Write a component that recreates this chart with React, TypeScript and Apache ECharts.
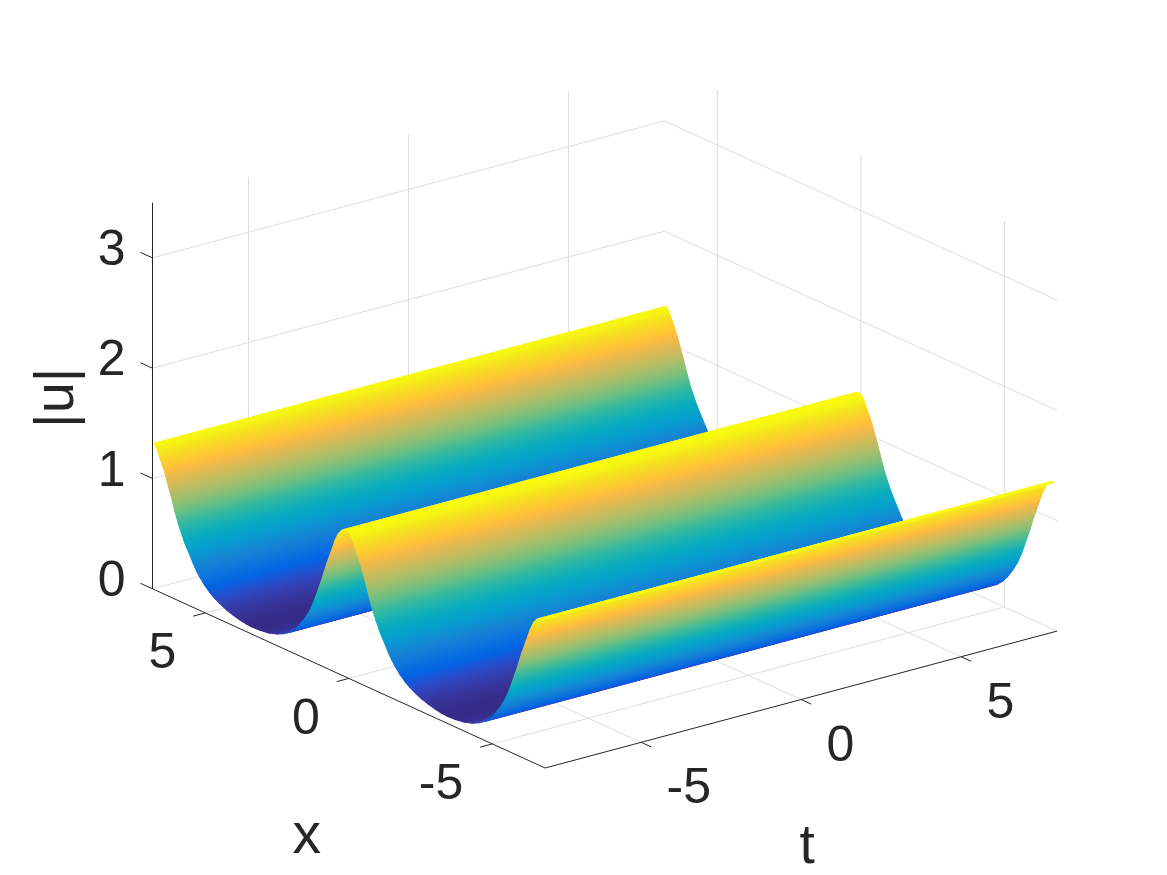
import React, { useEffect, useRef } from "react";
import * as echarts from "echarts";

// ---- data ----
const tLimits = [-8, 8];
const xLimits = [-6.84, 6.84];
const zLimits = [0, 3.5];
const tTicks = [-5, 0, 5];
const xTicks = [-5, 0, 5];
const zTicks = [0, 1, 2, 3];
const tTickLabels = ["-5", "0", "5"];
const xTickLabels = ["-5", "0", "5"];
const zTickLabels = ["0", "1", "2", "3"];

// the surface does not change along t: one profile |u|(x), from the back (x high) to the front
const profileX = [
  6.79, 6.69, 6.58, 6.49, 6.4, 6.32, 6.23, 6.14, 6.06, 5.94, 5.82, 5.71, 5.59, 5.42, 5.3, 5.18, 5.02, 4.84, 4.67, 4.49,
  4.26, 4.02, 3.79, 3.56, 3.39, 3.09, 2.79, 2.51, 2.28, 2.05, 1.87, 1.7, 1.52, 1.35, 1.2, 1.06, 0.91, 0.77, 0.62, 0.48,
  0.36, 0.25, 0.16, 0.07, -0.01, -0.11, -0.22, -0.31, -0.4, -0.48, -0.57, -0.66, -0.74, -0.86, -0.98, -1.09, -1.21,
  -1.38, -1.5, -1.62, -1.78, -1.96, -2.13, -2.31, -2.54, -2.78, -3.01, -3.24, -3.41, -3.71, -4.01, -4.29, -4.52, -4.75,
  -4.93, -5.1, -5.28, -5.45, -5.6, -5.74, -5.89, -6.03, -6.18, -6.32, -6.44, -6.55, -6.64, -6.73,
];
const profileU = [
  1.325, 1.29, 1.22, 1.16, 1.1, 1.03, 0.955, 0.875, 0.8, 0.7, 0.62, 0.55, 0.49, 0.4, 0.345, 0.3, 0.25, 0.205, 0.172,
  0.145, 0.117, 0.095, 0.08, 0.07, 0.066, 0.07, 0.082, 0.105, 0.135, 0.177, 0.225, 0.285, 0.365, 0.455, 0.56, 0.68,
  0.81, 0.945, 1.07, 1.19, 1.27, 1.31, 1.33, 1.335, 1.33, 1.29, 1.22, 1.16, 1.1, 1.03, 0.955, 0.875, 0.8, 0.7, 0.62,
  0.55, 0.49, 0.4, 0.345, 0.3, 0.25, 0.205, 0.172, 0.145, 0.117, 0.095, 0.08, 0.07, 0.066, 0.07, 0.082, 0.105, 0.135,
  0.177, 0.225, 0.285, 0.365, 0.455, 0.56, 0.68, 0.81, 0.945, 1.07, 1.19, 1.27, 1.31, 1.33, 1.335,
];

// ---- view ----
const ORIGIN = [152.5, 588.8]; // screen point of t = tmin, x = xmax, z = 0
const T_STEP = [32, -8.56];
const X_STEP = [28.7, 13.1];
const Z_STEP = 110.3;
const INK = "#262626";
const GRID = "#dddddd";
const FONT = "'Liberation Sans', Arial, Helvetica, sans-serif";

function project(t: number, x: number, z: number): number[] {
  const a = t - tLimits[0];
  const b = xLimits[1] - x;
  return [ORIGIN[0] + a * T_STEP[0] + b * X_STEP[0], ORIGIN[1] + a * T_STEP[1] + b * X_STEP[1] - z * Z_STEP];
}

const PARULA = [
  [0.2081, 0.1663, 0.5292], [0.2123, 0.2138, 0.627], [0.1959, 0.2645, 0.7279], [0.1253, 0.3242, 0.8303],
  [0.0117, 0.3875, 0.882], [0.0165, 0.4266, 0.8786], [0.0498, 0.4586, 0.8641], [0.0723, 0.4887, 0.8467],
  [0.0793, 0.52, 0.8312], [0.0641, 0.557, 0.824], [0.0343, 0.5966, 0.8199], [0.0239, 0.6287, 0.8038],
  [0.0228, 0.6535, 0.7768], [0.0384, 0.6743, 0.7436], [0.0843, 0.6928, 0.7061], [0.1453, 0.7098, 0.6646],
  [0.2178, 0.725, 0.6193], [0.3022, 0.7376, 0.5712], [0.3953, 0.7459, 0.5244], [0.4871, 0.7491, 0.484],
  [0.5709, 0.7485, 0.4494], [0.6473, 0.7456, 0.4188], [0.7184, 0.7411, 0.3905], [0.7858, 0.7356, 0.3633],
  [0.8507, 0.7299, 0.336], [0.9139, 0.7258, 0.3063], [0.9739, 0.7314, 0.2666], [0.999, 0.7653, 0.2164],
  [0.988, 0.8066, 0.1794], [0.9697, 0.8481, 0.1475], [0.9589, 0.8949, 0.1132], [0.9661, 0.9514, 0.0755],
  [0.9763, 0.9831, 0.0538],
];
const uMin = Math.min(...profileU);
const uMax = Math.max(...profileU);
function colorOf(u: number): string {
  const f = Math.max(0, Math.min(1, (u - uMin) / (uMax - uMin))) * (PARULA.length - 1);
  const i = Math.min(PARULA.length - 2, Math.floor(f));
  const k = f - i;
  const c = [0, 1, 2].map((j) => Math.round(255 * (PARULA[i][j] * (1 - k) + PARULA[i + 1][j] * k)));
  return `rgb(${c[0]},${c[1]},${c[2]})`;
}

// ---- rows handed to the series ----
const stripRows = profileX.slice(0, -1).map((x, i) => [x, profileU[i], profileX[i + 1], profileU[i + 1]]);

const gridRows: number[][] = [];
zTicks.forEach((z) => {
  gridRows.push([tLimits[0], xLimits[1], z, tLimits[1], xLimits[1], z]);
  gridRows.push([tLimits[1], xLimits[1], z, tLimits[1], xLimits[0], z]);
});
tTicks.forEach((t) => {
  gridRows.push([t, xLimits[1], zLimits[0], t, xLimits[1], zLimits[1]]);
  gridRows.push([t, xLimits[0], zLimits[0], t, xLimits[1], zLimits[0]]);
});
xTicks.forEach((x) => {
  gridRows.push([tLimits[1], x, zLimits[0], tLimits[1], x, zLimits[1]]);
  gridRows.push([tLimits[0], x, zLimits[0], tLimits[1], x, zLimits[0]]);
});

const axisRows: number[][] = [
  [tLimits[0], xLimits[1], zLimits[0], tLimits[0], xLimits[1], zLimits[1]],
  [tLimits[0], xLimits[1], zLimits[0], tLimits[0], xLimits[0], zLimits[0]],
  [tLimits[0], xLimits[0], zLimits[0], tLimits[1], xLimits[0], zLimits[0]],
];
zTicks.forEach((z) => axisRows.push([tLimits[0], xLimits[1], z, tLimits[0], xLimits[1] + 0.42, z]));
xTicks.forEach((x) => axisRows.push([tLimits[0], x, 0, tLimits[0] - 0.38, x, 0]));
tTicks.forEach((t) => axisRows.push([t, xLimits[0], 0, t, xLimits[0] - 0.35, 0]));

type Lab = { text: string; at: number[]; dx: number; dy: number; size: number; rot?: number; align: string };
const labels: Lab[] = [
  ...zTicks.map((z, i) => ({ text: zTickLabels[i], at: [tLimits[0], xLimits[1], z], dx: -27, dy: -10, size: 50, align: "right" })),
  ...xTicks.map((x, i) => ({ text: xTickLabels[i], at: [tLimits[0], x, 0], dx: -29, dy: 38.5, size: 50, align: "right" })),
  ...tTicks.map((t, i) => ({ text: tTickLabels[i], at: [t, xLimits[0], 0], dx: 25.5, dy: 44, size: 50, align: "left" })),
  { text: "x", at: [tLimits[0], 0, 0], dx: -42, dy: 155, size: 57, align: "center" },
  { text: "t", at: [0, xLimits[0], 0], dx: 6, dy: 144, size: 55, align: "center" },
  { text: "|u|", at: [tLimits[0], xLimits[1], 1.75], dx: -99, dy: 2, size: 56, rot: Math.PI / 2, align: "center" },
];

function segment(rowsApi: any) {
  const a = project(rowsApi.value(0), rowsApi.value(1), rowsApi.value(2));
  const b = project(rowsApi.value(3), rowsApi.value(4), rowsApi.value(5));
  const p = rowsApi.coord(a);
  const q = rowsApi.coord(b);
  return { x1: p[0], y1: p[1], x2: q[0], y2: q[1] };
}

export default function App() {
  const ref = useRef<HTMLDivElement>(null);
  useEffect(() => {
    document.body.style.margin = "0";
    const chart = echarts.init(ref.current!, undefined, { renderer: "svg" });
    chart.setOption({
      animation: false,
      backgroundColor: "#ffffff",
      tooltip: { show: false },
      grid: { left: 0, right: 0, top: 0, bottom: 0 },
      xAxis: { type: "value", min: 0, max: 1167, show: false },
      yAxis: { type: "value", min: 0, max: 875, inverse: true, show: false },
      series: [
        {
          name: "grid",
          type: "custom",
          coordinateSystem: "cartesian2d",
          silent: true,
          data: gridRows,
          renderItem: (_p: any, api: any) => ({
            type: "line",
            shape: segment(api),
            style: { stroke: GRID, lineWidth: 1, fill: "none" },
          }),
        },
        {
          name: "axes",
          type: "custom",
          coordinateSystem: "cartesian2d",
          silent: true,
          data: axisRows,
          renderItem: (_p: any, api: any) => ({
            type: "line",
            shape: segment(api),
            style: { stroke: INK, lineWidth: 1, fill: "none" },
          }),
        },
        {
          name: "|u|",
          type: "custom",
          coordinateSystem: "cartesian2d",
          silent: true,
          data: stripRows,
          renderItem: (_p: any, api: any) => {
            const x0 = api.value(0);
            const u0 = api.value(1);
            const x1 = api.value(2);
            const u1 = api.value(3);
            const A = api.coord(project(tLimits[0], x0, u0));
            const B = api.coord(project(tLimits[1], x0, u0));
            const C = api.coord(project(tLimits[1], x1, u1));
            const D = api.coord(project(tLimits[0], x1, u1));
            const ex = B[0] - A[0];
            const ey = B[1] - A[1];
            const len = Math.hypot(ex, ey);
            const nx = -ey / len;
            const ny = ex / len;
            const w = (D[0] - A[0]) * nx + (D[1] - A[1]) * ny;
            const stops = [0, 0.25, 0.5, 0.75, 1].map((o) => ({ offset: o, color: colorOf(u0 + (u1 - u0) * o) }));
            const grad = new echarts.graphic.LinearGradient(A[0], A[1], A[0] + w * nx, A[1] + w * ny, stops, true);
            return {
              type: "polygon",
              shape: { points: [A, B, C, D] },
              style: { fill: grad, stroke: grad, lineWidth: 1.3, lineJoin: "round" },
            };
          },
        },
        {
          name: "labels",
          type: "custom",
          coordinateSystem: "cartesian2d",
          silent: true,
          data: labels.map((_, i) => [i, 0]),
          renderItem: (p: any, api: any) => {
            const l = labels[p.dataIndex];
            const s = api.coord(project(l.at[0], l.at[1], l.at[2]));
            return {
              type: "text",
              x: s[0] + l.dx,
              y: s[1] + l.dy,
              rotation: l.rot || 0,
              style: {
                text: l.text,
                fontFamily: FONT,
                fontSize: l.size,
                fill: INK,
                align: l.align,
                verticalAlign: "middle",
              },
            };
          },
        },
      ],
    });
    return () => chart.dispose();
  }, []);
  return <div ref={ref} style={{ width: 1167, height: 875 }} />;
}
